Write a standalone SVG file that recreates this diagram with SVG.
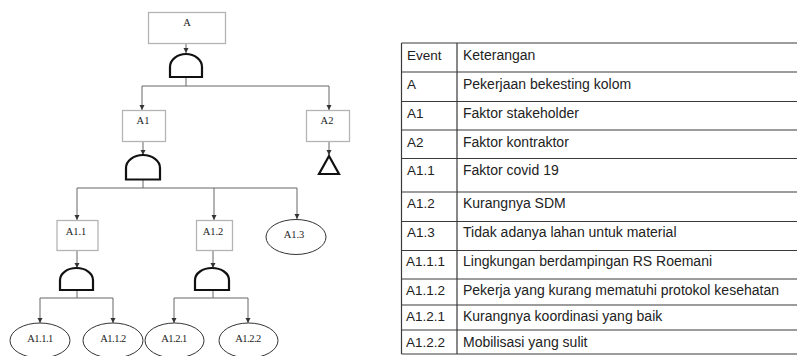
<svg xmlns="http://www.w3.org/2000/svg" width="797" height="356" viewBox="0 0 797 356">
<defs>
<marker id="ah" markerWidth="6" markerHeight="6" refX="5" refY="3" orient="auto" markerUnits="userSpaceOnUse">
<path d="M0,0.5 L5,3 L0,5.5 Z" fill="#333"/>
</marker>
<style>
.box{fill:#fff;stroke:#b4b4b4;stroke-width:1.3}
.ell{fill:#fff;stroke:#333;stroke-width:1}
.gate{fill:#fff;stroke:#111;stroke-width:2.2}
.lbl{font-family:"Liberation Serif","Times New Roman",serif;font-size:10.5px;fill:#222;text-anchor:middle}
.sm{letter-spacing:-0.5px}
.con{fill:none;stroke:#666;stroke-width:1}
.arr{fill:none;stroke:#666;stroke-width:1;marker-end:url(#ah)}
.tl{stroke:#3a3a3a;stroke-width:1.2;fill:none}
.tt{font-family:"Liberation Sans",Arial,sans-serif;font-size:14px;fill:#222}
.ev{font-size:13.5px}
</style>
</defs>
<rect width="797" height="356" fill="#fff"/>

<g id="connectors">
<path class="arr" d="M186,43 V53"/>
<path class="con" d="M186,77 V86 M142,86 H329"/>
<path class="arr" d="M142,86 V110"/>
<path class="arr" d="M329,86 V110"/>
<path class="arr" d="M143,141 V155"/>
<path class="arr" d="M329,141 V155"/>
<path class="con" d="M143,180 V188 M77,188 H297"/>
<path class="arr" d="M77,188 V220"/>
<path class="arr" d="M214,188 V220"/>
<path class="arr" d="M297,188 V219"/>
<path class="arr" d="M77,251 V268"/>
<path class="arr" d="M213,251 V268"/>
<path class="con" d="M77,290 V298 M40,298 H113"/>
<path class="arr" d="M40,298 V323"/>
<path class="arr" d="M113,298 V323"/>
<path class="con" d="M213,290 V298 M174,298 H248"/>
<path class="arr" d="M174,298 V323"/>
<path class="arr" d="M248,298 V323"/>
</g>

<g id="A"><rect class="box" x="148.5" y="12.5" width="77" height="31"/><text class="lbl" x="187" y="26">A</text></g>
<g id="gateA"><path class="gate" d="M170,77 V67 A16,13 0 0 1 202,67 V77 Z"/></g>
<g id="A1"><rect class="box" x="122.5" y="110.5" width="43" height="31"/><text class="lbl" x="143" y="124">A1</text></g>
<g id="A2"><rect class="box" x="306.5" y="110.5" width="43" height="31"/><text class="lbl" x="327" y="124">A2</text></g>
<g id="A2tri"><path class="gate" d="M329,156 L339,174 L319,174 Z" stroke-width="2"/></g>
<g id="gateA1"><path class="gate" d="M126,179.5 V168 A17,13 0 0 1 160,168 V179.5 Z"/></g>
<g id="A1.1"><rect class="box" x="57" y="220.5" width="41" height="30"/><text class="lbl" x="76" y="235">A1.1</text></g>
<g id="A1.2"><rect class="box" x="196.5" y="220.5" width="36" height="30"/><text class="lbl" x="213" y="235">A1.2</text></g>
<g id="A1.3"><ellipse class="ell" cx="296" cy="237" rx="30" ry="17.5"/><text class="lbl" x="294" y="238">A1.3</text></g>
<g id="gateA11"><path class="gate" d="M60,290 V280 A16.5,12 0 0 1 93,280 V290 Z"/></g>
<g id="gateA12"><path class="gate" d="M195,290 V280 A17,12 0 0 1 229,280 V290 Z"/></g>
<g id="A1.1.1"><ellipse class="ell" cx="40" cy="340.5" rx="30" ry="17.5"/><text class="lbl sm" x="40" y="342">A1.1.1</text></g>
<g id="A1.1.2"><ellipse class="ell" cx="113" cy="340.5" rx="30" ry="17.5"/><text class="lbl sm" x="113" y="342">A1.1.2</text></g>
<g id="A1.2.1"><ellipse class="ell" cx="174.5" cy="340.5" rx="29.5" ry="17.5"/><text class="lbl sm" x="174" y="342">A1.2.1</text></g>
<g id="A1.2.2"><ellipse class="ell" cx="248.5" cy="340.5" rx="29.5" ry="17.5"/><text class="lbl sm" x="248" y="342">A1.2.2</text></g>

<g id="table">
<path class="tl" d="M401.5,43 V354 M457,43 V354 M401.5,43 H800 M401.5,72 H800 M401.5,101.5 H800 M401.5,130 H800 M401.5,158.5 H800 M401.5,192 H800 M401.5,221.5 H800 M401.5,250.5 H800 M401.5,279 H800 M401.5,305 H800 M401.5,330 H800 M401.5,354 H800"/>
<g class="tt">
<text class="ev" x="407" y="60">Event</text><text x="463" y="60">Keterangan</text>
<text class="ev" x="407" y="89">A</text><text x="463" y="89">Pekerjaan bekesting kolom</text>
<text class="ev" x="407" y="118">A1</text><text x="463" y="118">Faktor stakeholder</text>
<text class="ev" x="407" y="147">A2</text><text x="463" y="147">Faktor kontraktor</text>
<text class="ev" x="407" y="175">A1.1</text><text x="463" y="175">Faktor covid 19</text>
<text class="ev" x="407" y="208">A1.2</text><text x="463" y="208">Kurangnya SDM</text>
<text class="ev" x="407" y="237">A1.3</text><text x="463" y="237">Tidak adanya lahan untuk material</text>
<text class="ev" x="406" y="266">A1.1.1</text><text x="463" y="266">Lingkungan berdampingan RS Roemani</text>
<text class="ev" x="406" y="295">A1.1.2</text><text x="463" y="295">Pekerja yang kurang mematuhi protokol kesehatan</text>
<text class="ev" x="406" y="321">A1.2.1</text><text x="463" y="321">Kurangnya koordinasi yang baik</text>
<text class="ev" x="406" y="347">A1.2.2</text><text x="463" y="347">Mobilisasi yang sulit</text>
</g>
</g>
</svg>
